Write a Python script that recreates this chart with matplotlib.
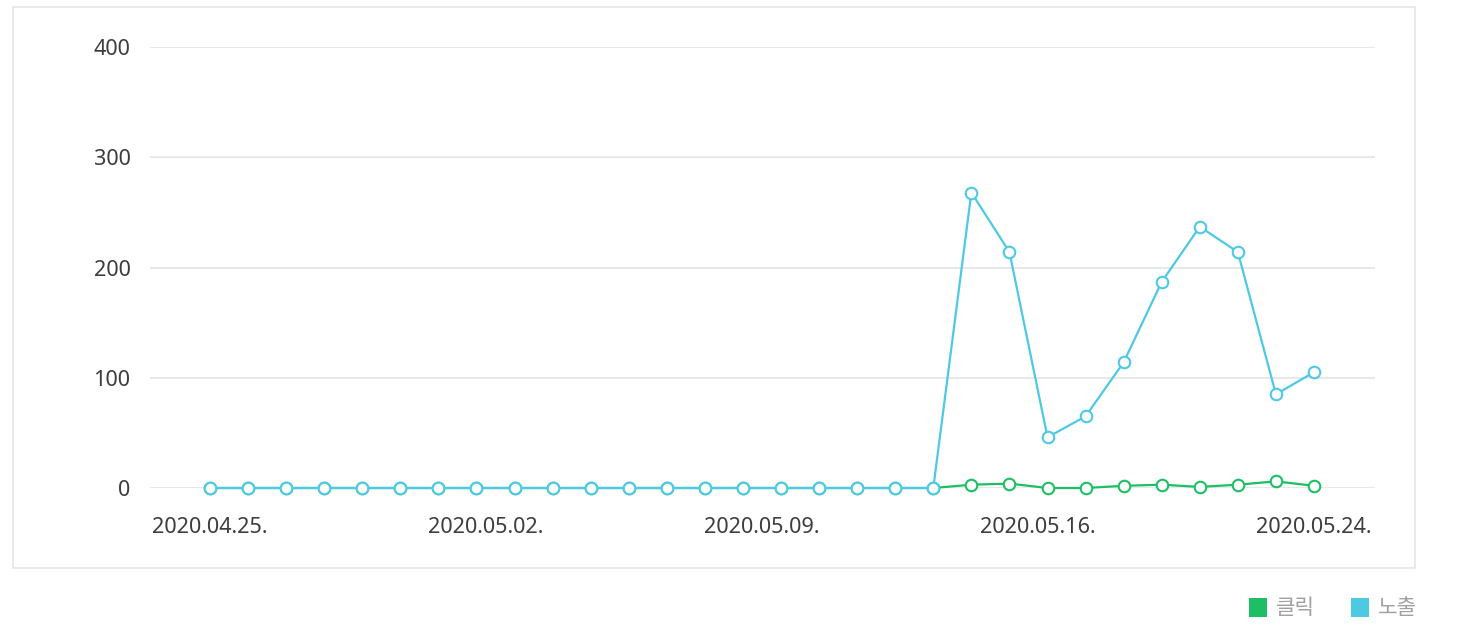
import matplotlib
matplotlib.use("Agg")
import matplotlib.pyplot as plt
from matplotlib.patches import Rectangle

dates = ["2020.04.25.", "2020.04.26.", "2020.04.27.", "2020.04.28.", "2020.04.29.",
         "2020.04.30.", "2020.05.01.", "2020.05.02.", "2020.05.03.", "2020.05.04.",
         "2020.05.05.", "2020.05.06.", "2020.05.07.", "2020.05.08.", "2020.05.09.",
         "2020.05.10.", "2020.05.11.", "2020.05.12.", "2020.05.13.", "2020.05.14.",
         "2020.05.15.", "2020.05.16.", "2020.05.17.", "2020.05.18.", "2020.05.19.",
         "2020.05.20.", "2020.05.21.", "2020.05.22.", "2020.05.23.", "2020.05.24."]
clicks = [0, 0, 0, 0, 0, 0, 0, 0, 0, 0, 0, 0, 0, 0, 0, 0, 0, 0, 0, 0,
          3, 4, 0, 0, 2, 3, 1, 3, 6, 2]
impressions = [0, 0, 0, 0, 0, 0, 0, 0, 0, 0, 0, 0, 0, 0, 0, 0, 0, 0, 0, 0,
               268, 214, 46, 65, 114, 187, 237, 214, 85, 105]
series_names = ["클릭", "노출"]
xtick_labels = ["2020.04.25.", "2020.05.02.", "2020.05.09.", "2020.05.16.", "2020.05.24."]
yticks = [0, 100, 200, 300, 400]

GREEN = "#1dbf64"
BLUE = "#4ec9e4"

W, H = 1460, 628
fig = plt.figure(figsize=(W / 100, H / 100), dpi=100)
fig.patch.set_facecolor("white")

# outer box
fig.patches.append(Rectangle((13 / W, 1 - 568 / H), (1415 - 13) / W, (568 - 7) / H,
                             transform=fig.transFigure, fill=False,
                             edgecolor="#e6e6e6", linewidth=1.2))

ax = fig.add_axes([150 / W, 1 - 488 / H, 1225 / W, 441 / H])
ax.set_facecolor("none")
for s in ax.spines.values():
    s.set_visible(False)

n = len(dates)
x = list(range(n))
px_per = (1314 - 210) / (n - 1)
ax.set_xlim(-(210 - 150) / px_per, (n - 1) + (1375 - 1314) / px_per)
ax.set_ylim(0, 400)

for yv in yticks:
    ax.axhline(yv, color="#e6e8eb", linewidth=1.4, zorder=0)

ax.plot(x, clicks, color=GREEN, linewidth=1.6, marker="o", markersize=8.3,
        markerfacecolor="white", markeredgecolor=GREEN, markeredgewidth=1.5,
        clip_on=False, zorder=3)
ax.plot(x, impressions, color=BLUE, linewidth=1.6, marker="o", markersize=8.3,
        markerfacecolor="white", markeredgecolor=BLUE, markeredgewidth=1.5,
        clip_on=False, zorder=4)

tick_pos = [i * (n - 1) / (len(xtick_labels) - 1) for i in range(len(xtick_labels))]
ax.set_xticks(tick_pos)
ax.set_xticklabels(xtick_labels)
ax.set_yticks(yticks)
ax.set_yticklabels([str(v) for v in yticks])
ax.tick_params(axis="both", length=0, labelsize=15.6, labelcolor="#3d3d3d")
ax.tick_params(axis="x", pad=21)
ax.tick_params(axis="y", pad=14)
for lab in ax.get_xticklabels() + ax.get_yticklabels():
    lab.set_fontfamily("Noto Sans")

# legend
leg = [(1249, GREEN, series_names[0], 1276), (1351, BLUE, series_names[1], 1378)]
for x0, col, name, tx in leg:
    fig.patches.append(Rectangle((x0 / W, 1 - 617 / H), 18 / W, 19 / H,
                                 transform=fig.transFigure, facecolor=col,
                                 edgecolor="none"))
    fig.text(tx / W, 1 - 608 / H, name, fontsize=15.3, color="#a0a0a0",
             family=["Noto Sans CJK KR", "DejaVu Sans"], va="center", ha="left")

fig.savefig("out.png", dpi=100, facecolor="white")
